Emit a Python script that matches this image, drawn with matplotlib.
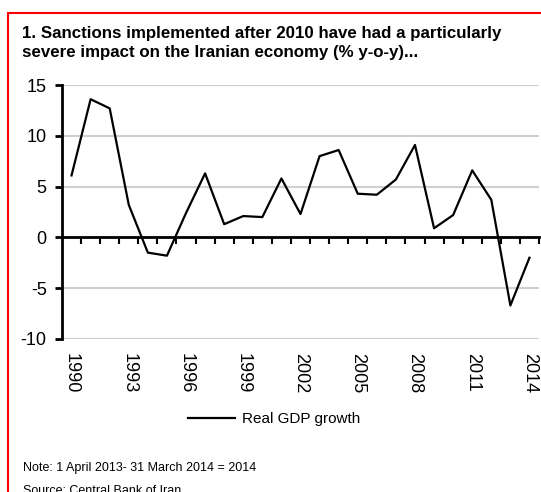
import matplotlib
matplotlib.use("Agg")
import matplotlib.pyplot as plt
from matplotlib import font_manager
from matplotlib.patches import Rectangle

years = list(range(1990, 2015))
gdp_growth = [6.1, 13.6, 12.7, 3.2, -1.5, -1.8, 2.4, 6.3, 1.3, 2.1, 2.0,
              5.8, 2.3, 8.0, 8.6, 4.3, 4.2, 5.7, 9.1, 0.9, 2.2, 6.6, 3.7,
              -6.7, -2.0]
label_years = list(range(1990, 2015, 3))
y_ticks = [-10, -5, 0, 5, 10, 15]

names = {f.name for f in font_manager.fontManager.ttflist}
FONT = "Liberation Sans Narrow" if "Liberation Sans Narrow" in names else "Liberation Sans"
plt.rcParams["font.family"] = [FONT, "DejaVu Sans"]

fig = plt.figure(figsize=(5.41, 4.92), dpi=100)

# red frame round the panel
fig.add_artist(Rectangle((8 / 541, -0.1), 1.2, 1.1 - 13 / 492, transform=fig.transFigure,
                         fill=False, edgecolor="#ff0000", linewidth=1.5))

fig.text(22 / 541, 1 - 26 / 492,
         "1. Sanctions implemented after 2010 have had a particularly\n"
         "severe impact on the Iranian economy (% y-o-y)...",
         fontsize=12.2, fontweight="bold", va="top", ha="left", linespacing=1.35)

ax = fig.add_axes([62 / 541, 1 - 339 / 492, 477 / 541, 254 / 492])
x = list(range(len(years)))
line, = ax.plot(x, gdp_growth, color="black", linewidth=1.6, label="Real GDP growth")

ax.set_xlim(-0.5, len(years) - 0.5)
ax.set_ylim(-10, 15)
ax.set_yticks(y_ticks)
ax.set_yticklabels([str(v) for v in y_ticks])
ax.yaxis.grid(True, color="#d0d0d0", linewidth=1.5)
ax.set_axisbelow(True)
for s in ["top", "right"]:
    ax.spines[s].set_visible(False)
ax.spines["left"].set_linewidth(2)
ax.spines["bottom"].set_position(("data", 0))
ax.spines["bottom"].set_linewidth(2)
ax.set_xticks([i + 0.5 for i in x])
ax.tick_params(axis="x", direction="out", length=5, width=1.5, labelbottom=False)
ax.tick_params(axis="y", direction="out", length=5, width=2, labelsize=13, pad=6)

sec = ax.secondary_xaxis(0)
sec.set_xticks([years.index(y) for y in label_years])
sec.set_xticklabels([str(y) for y in label_years], rotation=270, fontsize=13)
sec.tick_params(length=0, pad=10)
sec.spines["bottom"].set_visible(False)

fig.legend(handles=[line], loc="center", bbox_to_anchor=(274 / 541, 1 - 419 / 492),
           frameon=False, fontsize=11, handlelength=3.1, handletextpad=0.45)

fig.text(23 / 541, 1 - 468 / 492, "Note: 1 April 2013- 31 March 2014 = 2014",
         fontsize=9, va="center", ha="left")
fig.text(23 / 541, 1 - 485 / 492, "Source: Central Bank of Iran",
         fontsize=9, va="top", ha="left")

fig.savefig("out.png", dpi=100)
